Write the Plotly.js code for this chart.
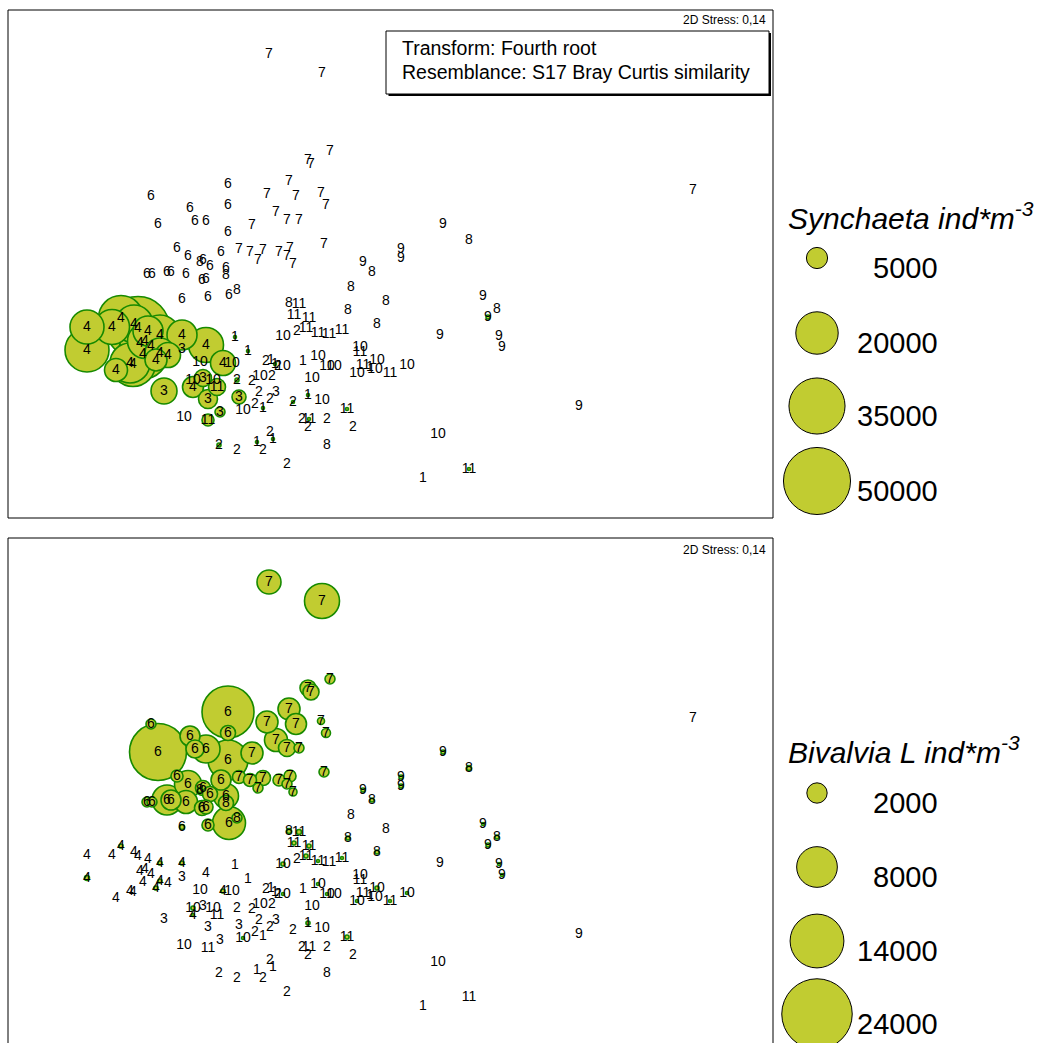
<!DOCTYPE html>
<html>
<head>
<meta charset="utf-8">
<script src="https://cdn.plot.ly/plotly-3.0.1.min.js"></script>
<style>
  html, body { margin: 0; padding: 0; background: #fff; }
  #chart { width: 1037px; height: 1043px; }
</style>
</head>
<body>
<div id="chart"></div>
<script>
// nMDS ordination of zooplankton samples (labels = sampling group),
// with bubbles scaled to Synchaeta (top) and Bivalvia larvae (bottom) abundance.

const sampleGroup = [
  // 7
  '7','7','7','7','7','7','7','7','7','7','7','7','7','7','7','7','7','7','7','7','7','7','7','7',
  // 6
  '6','6','6','6','6','6','6','6','6','6','6','6','6','6','6','6','6','6','6','6','6','6','6','6',
  // 8
  '8','8','8','8','8','8','8','8','8','8','8','8',
  // 9
  '9','9','9','9','9','9','9','9','9','9',
  // 10
  '10','10','10','10','10','10','10','10','10','10','10','10','10','10','10','10','10','10','10','10',
  // 11
  '11','11','11','11','11','11','11','11','11','11','11','11','11','11','11',
  // 1
  '1','1','1','1','1','1','1','1','1','1','1',
  // 2
  '2','2','2','2','2','2','2','2','2','2','2','2','2','2','2','2','2','2','2',
  // 3
  '3','3','3','3','3','3','3',
  // 4
  '4','4','4','4','4','4','4','4','4','4','4','4','4','4','4','4','4','4','4','4','4','4'
];

const mds1 = [
  -1.21,-0.68,-0.60,-0.82,-0.79,-1.01,-1.23,-0.94,-0.69,-0.64,-1.14,-1.03,-0.91,-1.38,-0.66,-1.51,-1.40,-1.27,-1.32,-1.11,-1.00,-1.03,-0.97,3.03,
  -1.62,-2.39,-2.00,-1.62,-1.95,-1.84,-2.32,-1.62,-2.13,-2.02,-1.69,-1.87,-1.80,-1.64,-2.43,-2.38,-2.23,-2.19,-2.04,-1.88,-1.84,-2.08,-1.82,-1.61,
  -1.90,-1.64,-1.53,0.79,-0.18,-0.39,-0.04,-0.42,-0.13,1.07,-1.01,-0.63,
  0.53,0.11,0.11,-0.27,0.93,0.98,0.50,1.09,1.12,1.89,
  -1.07,-1.90,-1.58,-1.97,-1.77,-1.47,-2.06,-1.30,-1.07,-0.72,-0.63,-0.56,-0.78,-0.30,-0.13,-0.33,-0.15,0.17,0.48,-0.68,
  -0.91,-0.96,-0.81,-0.84,-0.72,-0.61,-0.48,-0.30,-0.27,0.00,-1.73,-1.82,-0.43,0.79,-0.81,
  -1.55,-1.42,-1.19,-1.15,-0.87,-0.82,-1.27,-1.33,-1.17,0.33,-0.20,
  -1.53,-1.38,-1.18,-1.24,-1.12,-0.93,-1.31,-1.35,-1.20,-0.97,-0.88,-0.82,-0.63,-0.37,-1.20,-1.27,-1.71,-1.53,-1.03,
  -2.26,-2.08,-1.87,-1.82,-1.70,-1.51,-1.14,
  -3.03,-3.03,-2.78,-2.69,-2.56,-2.52,-2.42,-2.30,-2.08,-2.50,-2.45,-2.39,-2.47,-2.30,-2.22,-2.34,-2.60,-2.57,-2.74,-1.84,-1.67,-1.97
];

const mds2 = [
  2.12,1.93,1.15,1.06,1.02,0.85,0.72,0.70,0.73,0.61,0.54,0.46,0.46,0.41,0.22,0.17,0.14,0.16,0.06,0.14,0.18,0.10,0.02,0.76,
  0.82,0.70,0.58,0.61,0.45,0.45,0.42,0.34,0.18,0.10,0.14,0.06,0.00,-0.02,-0.08,-0.08,-0.06,-0.06,-0.08,-0.14,-0.13,-0.33,-0.31,-0.29,
  0.04,-0.09,-0.24,0.26,-0.06,-0.21,-0.35,-0.44,-0.58,-0.43,-0.37,-1.79,
  0.42,0.17,0.08,0.04,-0.30,-0.51,-0.69,-0.70,-0.81,-1.40,
  -0.70,-0.96,-0.97,-1.14,-1.14,-1.44,-1.51,-1.10,-1.00,-0.90,-1.00,-1.00,-1.12,-0.81,-0.94,-1.07,-1.03,-0.99,-1.68,-1.34,
  -0.38,-0.49,-0.52,-0.62,-0.67,-0.68,-0.64,-0.86,-0.99,-1.07,-1.21,-1.54,-1.43,-2.03,-1.53,
  -0.71,-0.85,-0.94,-0.98,-0.95,-1.29,-1.42,-1.76,-1.73,-2.12,-1.01,
  -1.14,-1.15,-1.10,-0.95,-1.00,-0.65,-1.26,-1.38,-1.33,-1.36,-1.53,-1.61,-1.53,-1.61,-1.66,-1.84,-1.79,-1.84,-1.98,
  -1.25,-0.83,-1.12,-1.33,-1.46,-1.31,-1.26,
  -0.61,-0.84,-0.61,-0.52,-0.58,-0.62,-0.65,-0.69,-0.69,-0.77,-0.75,-0.80,-0.88,-0.87,-0.89,-0.94,-0.97,-0.98,-1.04,-0.79,-0.97,-1.21
];

// Synchaeta, ind*m-3
const synchaeta = [
  0,0,0,0,0,0,0,0,0,0,0,0,0,0,0,0,0,0,0,0,0,0,0,0,
  0,0,0,0,0,0,0,0,0,0,0,0,0,0,0,0,0,0,0,0,0,0,0,0,
  0,0,0,0,0,0,0,0,0,0,0,0,
  0,0,0,0,0,180,0,0,0,0,
  0,0,0,0,0,0,0,0,0,0,0,0,0,0,0,0,0,0,0,0,
  0,0,0,0,0,0,0,0,0,0,3210,1600,100,100,100,
  100,100,0,100,0,100,100,100,100,0,0,
  180,0,0,0,0,0,0,0,0,100,0,0,0,0,0,0,180,0,0,
  7510,0,3210,4010,1110,2180,0,
  12840,21510,13610,22500,16040,44100,10000,17780,10000,17780,13610,22500,27780,10000,6940,5380,17780,22500,5880,13610,6940,4900
];

// Bivalvia larvae, ind*m-3
const bivalvia = [
  2780,5920,480,1240,1240,2340,2340,2130,240,390,2560,1400,480,2340,480,820,820,1090,480,700,700,480,310,0,
  13060,480,1930,1090,1570,3790,15690,7730,700,3520,1930,1090,1090,3020,480,480,4350,1930,2560,1090,950,120,700,5260,
  120,1090,480,120,80,0,0,80,80,80,120,0,
  80,80,80,80,40,80,0,40,40,0,
  80,0,0,80,0,40,0,0,40,40,40,0,0,0,80,40,0,40,0,0,
  120,80,80,80,40,0,40,0,0,40,0,0,80,0,0,
  0,0,0,0,0,80,0,0,0,0,0,
  0,0,0,0,0,0,0,0,0,0,0,0,0,0,0,0,0,0,0,
  0,0,0,0,0,0,0,
  0,120,0,80,0,0,0,80,80,0,0,0,0,80,0,80,0,0,0,0,80,40
];

const synLegendValues = [5000, 20000, 35000, 50000];
const bivLegendValues = [2000, 8000, 14000, 24000];

// ---------------------------------------------------------------------------
const W = 1037, H = 1043;
const FONT = 'Liberation Sans, Arial, Helvetica, sans-serif';
const BUBBLE_FILL = '#c1cc31';
const BUBBLE_EDGE = '#178a00';
const SYN_K = 0.30;   // bubble diameter (px) per sqrt(abundance)
const BIV_K = 0.455;

const px = x => x / W;
const py = y => 1 - y / H;

function bubbleTrace(values, k, xa, ya) {
  const idx = values.map((v, i) => i).filter(i => values[i] > 0)
    .sort((a, b) => values[b] - values[a]);
  return {
    type: 'scatter', mode: 'markers', xaxis: xa, yaxis: ya,
    x: idx.map(i => mds1[i]), y: idx.map(i => mds2[i]),
    marker: {
      size: idx.map(i => k * Math.sqrt(values[i])), sizemode: 'diameter',
      color: BUBBLE_FILL, opacity: 1,
      line: { color: BUBBLE_EDGE, width: 1.6 }
    },
    hoverinfo: 'skip', showlegend: false, cliponaxis: true
  };
}

function labelTrace(xa, ya) {
  return {
    type: 'scatter', mode: 'text', xaxis: xa, yaxis: ya,
    x: mds1, y: mds2, text: sampleGroup, textposition: 'middle center',
    textfont: { family: FONT, size: 14, color: '#000' },
    hoverinfo: 'skip', showlegend: false, cliponaxis: false
  };
}

const traces = [
  bubbleTrace(synchaeta, SYN_K, 'x', 'y'), labelTrace('x', 'y'),
  bubbleTrace(bivalvia, BIV_K, 'x2', 'y2'), labelTrace('x2', 'y2')
];

// frames, info box
const shapes = [];
const annotations = [];
function rectPx(x0, y0, x1, y1, extra) {
  shapes.push(Object.assign({ type: 'rect', xref: 'paper', yref: 'paper',
    x0: px(x0), x1: px(x1), y0: py(y0), y1: py(y1) }, extra));
}
rectPx(8, 10, 773, 518, { line: { color: '#000', width: 1 } });
rectPx(8, 538, 773, 1080, { line: { color: '#000', width: 1 } });
// info box with drop shadow
rectPx(388.5, 33, 771, 96, { fillcolor: '#000', line: { width: 0 } });
rectPx(386, 31, 769, 94, { fillcolor: '#fff', line: { color: '#000', width: 1 } });

function textPx(x, y, text, size, opts) {
  annotations.push(Object.assign({ xref: 'paper', yref: 'paper', x: px(x), y: py(y),
    text: text, showarrow: false, xanchor: 'left', yanchor: 'middle',
    font: { family: FONT, size: size, color: '#000' } }, opts));
}
textPx(400, 48, 'Transform: Fourth root', 19.5);
textPx(400, 72, 'Resemblance: S17 Bray Curtis similarity', 19.5);
textPx(768, 20, '2D Stress: 0,14', 12, { xanchor: 'right' });
textPx(768, 550, '2D Stress: 0,14', 12, { xanchor: 'right' });

// bubble size keys
function sizeKey(title, titleY, values, k, rowsY) {
  textPx(786, titleY, '<i>' + title + ' ind*m<sup>-3</sup></i>', 30);
  values.forEach((v, i) => {
    const r = k * Math.sqrt(v) / 2;
    shapes.push({ type: 'circle', xref: 'paper', yref: 'paper',
      xsizemode: 'pixel', ysizemode: 'pixel',
      xanchor: px(817), yanchor: py(rowsY[i]),
      x0: -r, x1: r, y0: -r, y1: r,
      fillcolor: BUBBLE_FILL, line: { color: '#000', width: 1 } });
    textPx(940, rowsY[i] + 10, String(v), 29, { xanchor: 'right' });
  });
}
sizeKey('Synchaeta', 216, synLegendValues, SYN_K, [258, 333, 406, 481]);
sizeKey('Bivalvia L', 750, bivLegendValues, BIV_K, [793, 867, 941, 1014]);

const hidden = { showgrid: false, zeroline: false, showticklabels: false, ticks: '',
  showline: false, fixedrange: true };
// vertical extent of the ordination window (same scale in both panels)
const yTop = 2.56, yBottom = -2.52;
const layout = {
  width: W, height: H, margin: { l: 0, r: 0, t: 0, b: 0 },
  paper_bgcolor: '#fff', plot_bgcolor: 'rgba(0,0,0,0)', showlegend: false,
  xaxis: Object.assign({}, hidden, { domain: [px(8), px(773)], range: [-3.82, 3.83], anchor: 'y' }),
  yaxis: Object.assign({}, hidden, { domain: [py(518), py(10)], range: [yBottom, yTop], anchor: 'x' }),
  xaxis2: Object.assign({}, hidden, { domain: [px(8), px(773)], range: [-3.82, 3.83], anchor: 'y2' }),
  yaxis2: Object.assign({}, hidden, { domain: [0, py(538)],
    range: [yTop - (yTop - yBottom) * (H - 538) / (518 - 10), yTop], anchor: 'x2' }),
  shapes: shapes, annotations: annotations
};

Plotly.newPlot('chart', traces, layout, { staticPlot: true, displayModeBar: false });
</script>
</body>
</html>
